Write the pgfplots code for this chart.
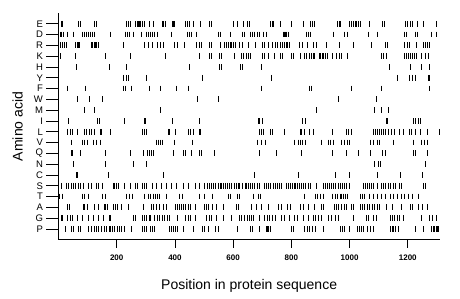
\documentclass[border=0pt]{standalone}
\usepackage{fontspec}
\setmainfont{Liberation Sans}
\usepackage{pgfplots}
\pgfplotsset{compat=1.18}
\begin{document}
\begin{tikzpicture}
\pgfplotsset{bar/.style={only marks, mark=|, mark size=2.9pt, mark options={line width=1pt, black}}}
\begin{axis}[name=main,
  scale only axis, width=381.3pt, height=226.8pt,
  xmin=0, xmax=1310, ymin=0, ymax=21, clip=false,
  axis x line*=bottom, axis y line*=left,
  axis line style={line width=1.4pt, -},
  xtick=\empty,
  ytick={1,...,20},
  yticklabels={P,G,A,T,S,C,N,Q,V,L,I,M,W,F,Y,H,K,R,D,E},
  major tick length=12pt, tick align=outside,
  tick style={black, line width=0.8pt},
  yticklabel style={font=\fontsize{9.5}{10}\selectfont},
  ylabel={Amino acid},
  ylabel style={at={(axis description cs:-0.1075,0.5)}, anchor=center, font=\fontsize{14}{16}\selectfont},
]
% E
\addplot[bar] coordinates {(9,20)(13,20)(15,20)(70,20)(75,20)(122,20)(125,20)(130,20)(234,20)(242,20)(249,20)(266,20)(270,20)(274,20)(278,20)(282,20)(288,20)(295,20)(311,20)(326,20)(358,20)(362,20)(368,20)(390,20)(394,20)(400,20)(438,20)(442,20)(449,20)(463,20)(489,20)(520,20)(527,20)(600,20)(616,20)(635,20)(650,20)(657,20)(730,20)(735,20)(739,20)(764,20)(799,20)(841,20)(867,20)(873,20)(881,20)(959,20)(965,20)(969,20)(1001,20)(1006,20)(1013,20)(1019,20)(1024,20)(1030,20)(1036,20)(1070,20)(1114,20)(1119,20)(1191,20)(1198,20)(1210,20)(1217,20)(1233,20)(1253,20)(1297,20)};
% D
\addplot[bar] coordinates {(7,19)(12,19)(18,19)(32,19)(51,19)(82,19)(89,19)(96,19)(103,19)(109,19)(116,19)(125,19)(180,19)(231,19)(238,19)(244,19)(258,19)(286,19)(302,19)(309,19)(315,19)(323,19)(331,19)(339,19)(389,19)(442,19)(449,19)(456,19)(474,19)(549,19)(557,19)(592,19)(632,19)(640,19)(658,19)(667,19)(675,19)(683,19)(692,19)(703,19)(713,19)(772,19)(776,19)(780,19)(785,19)(789,19)(852,19)(858,19)(866,19)(944,19)(984,19)(992,19)(1064,19)(1095,19)(1187,19)(1196,19)(1225,19)(1233,19)(1282,19)(1299,19)};
% R
\addplot[bar] coordinates {(7,18)(13,18)(19,18)(27,18)(59,18)(64,18)(68,18)(73,18)(112,18)(117,18)(123,18)(128,18)(132,18)(138,18)(223,18)(294,18)(309,18)(323,18)(339,18)(349,18)(360,18)(400,18)(408,18)(434,18)(474,18)(484,18)(492,18)(518,18)(526,18)(555,18)(572,18)(578,18)(584,18)(590,18)(596,18)(602,18)(608,18)(621,18)(633,18)(652,18)(678,18)(701,18)(709,18)(721,18)(736,18)(744,18)(752,18)(761,18)(770,18)(778,18)(783,18)(788,18)(793,18)(827,18)(839,18)(855,18)(875,18)(885,18)(921,18)(967,18)(1015,18)(1076,18)(1122,18)(1130,18)(1190,18)(1198,18)(1207,18)(1230,18)(1253,18)(1262,18)(1268,18)(1274,18)};
% K
\addplot[bar] coordinates {(7,17)(57,17)(160,17)(246,17)(366,17)(484,17)(518,17)(526,17)(552,17)(559,17)(603,17)(630,17)(637,17)(646,17)(652,17)(658,17)(700,17)(707,17)(721,17)(741,17)(764,17)(769,17)(799,17)(807,17)(830,17)(844,17)(852,17)(864,17)(870,17)(875,17)(881,17)(895,17)(900,17)(906,17)(912,17)(918,17)(924,17)(941,17)(955,17)(964,17)(973,17)(992,17)(1110,17)(1118,17)(1127,17)(1190,17)(1196,17)(1203,17)(1210,17)(1217,17)(1223,17)(1230,17)(1247,17)(1262,17)(1270,17)};
% H
\addplot[bar] coordinates {(62,16)(175,16)(232,16)(449,16)(552,16)(560,16)(626,16)(633,16)(698,16)(1136,16)(1210,16)(1246,16)(1276,16)};
% Y
\addplot[bar] coordinates {(225,15)(232,15)(239,15)(303,15)(495,15)(732,15)(1164,15)(1207,15)(1217,15)(1225,15)(1270,15)(1273,15)};
% F
\addplot[bar] coordinates {(32,14)(94,14)(223,14)(231,14)(251,14)(314,14)(351,14)(406,14)(446,14)(698,14)(862,14)(870,14)(1007,14)(1110,14)(1276,14)};
% W
\addplot[bar] coordinates {(66,13)(108,13)(151,13)(478,13)(549,13)(961,13)(1091,13)};
% M
\addplot[bar] coordinates {(88,12)(122,12)(349,12)(885,12)(1087,12)(1110,12)(1135,12)};
% I
\addplot[bar] coordinates {(36,11)(135,11)(141,11)(228,11)(295,11)(299,11)(392,11)(485,11)(686,11)(692,11)(701,11)(838,11)(847,11)(1127,11)(1131,11)(1221,11)(1228,11)(1236,11)(1244,11)};
% L
\addplot[bar] coordinates {(31,10)(40,10)(48,10)(64,10)(89,10)(97,10)(105,10)(114,10)(123,10)(143,10)(148,10)(177,10)(288,10)(295,10)(302,10)(377,10)(383,10)(403,10)(446,10)(454,10)(463,10)(484,10)(488,10)(692,10)(698,10)(704,10)(730,10)(736,10)(776,10)(830,10)(835,10)(844,10)(864,10)(875,10)(941,10)(988,10)(997,10)(1007,10)(1082,10)(1088,10)(1095,10)(1102,10)(1109,10)(1116,10)(1125,10)(1134,10)(1144,10)(1156,10)(1171,10)(1185,10)(1205,10)(1212,10)(1228,10)(1242,10)(1267,10)(1308,10)};
% V
\addplot[bar] coordinates {(43,9)(83,9)(90,9)(99,9)(120,9)(130,9)(144,9)(335,9)(343,9)(351,9)(358,9)(397,9)(461,9)(684,9)(698,9)(712,9)(812,9)(824,9)(831,9)(838,9)(849,9)(902,9)(927,9)(934,9)(944,9)(973,9)(984,9)(992,9)(1001,9)(1072,9)(1082,9)(1095,9)(1102,9)(1150,9)(1219,9)(1248,9)(1259,9)(1267,9)};
% Q
\addplot[bar] coordinates {(43,8)(48,8)(77,8)(162,8)(249,8)(291,8)(306,8)(313,8)(320,8)(327,8)(396,8)(429,8)(436,8)(457,8)(486,8)(492,8)(537,8)(692,8)(749,8)(835,8)(941,8)(991,8)(1032,8)(1071,8)(1112,8)(1122,8)(1218,8)(1228,8)(1268,8)};
% N
\addplot[bar] coordinates {(51,7)(162,7)(257,7)(303,7)(1087,7)(1099,7)(1107,7)(1262,7)};
% C
\addplot[bar] coordinates {(62,6)(66,6)(171,6)(360,6)(673,6)(824,6)(952,6)(999,6)(1095,6)(1175,6)(1251,6)};
% S
\addplot[bar] coordinates {(9,5)(28,5)(36,5)(43,5)(51,5)(59,5)(68,5)(77,5)(85,5)(103,5)(112,5)(131,5)(139,5)(151,5)(188,5)(194,5)(200,5)(206,5)(228,5)(249,5)(263,5)(272,5)(288,5)(295,5)(303,5)(322,5)(337,5)(354,5)(371,5)(389,5)(406,5)(429,5)(446,5)(469,5)(486,5)(503,5)(511,5)(520,5)(527,5)(534,5)(541,5)(548,5)(555,5)(561,5)(568,5)(575,5)(582,5)(589,5)(596,5)(603,5)(610,5)(617,5)(623,5)(632,5)(641,5)(647,5)(654,5)(661,5)(668,5)(675,5)(682,5)(689,5)(709,5)(716,5)(723,5)(730,5)(737,5)(744,5)(751,5)(760,5)(767,5)(783,5)(789,5)(796,5)(803,5)(810,5)(815,5)(822,5)(828,5)(835,5)(842,5)(849,5)(858,5)(867,5)(887,5)(910,5)(918,5)(925,5)(931,5)(938,5)(945,5)(952,5)(961,5)(969,5)(976,5)(983,5)(990,5)(999,5)(1047,5)(1054,5)(1061,5)(1068,5)(1075,5)(1082,5)(1095,5)(1110,5)(1118,5)(1125,5)(1133,5)(1141,5)(1150,5)(1159,5)(1171,5)(1179,5)(1253,5)(1262,5)};
% T
\addplot[bar] coordinates {(5,4)(14,4)(83,4)(91,4)(102,4)(152,4)(160,4)(234,4)(243,4)(255,4)(294,4)(309,4)(317,4)(326,4)(332,4)(339,4)(348,4)(371,4)(417,4)(425,4)(486,4)(500,4)(529,4)(583,4)(591,4)(614,4)(621,4)(669,4)(686,4)(693,4)(844,4)(883,4)(890,4)(899,4)(909,4)(941,4)(950,4)(959,4)(968,4)(973,4)(978,4)(985,4)(992,4)(1038,4)(1045,4)(1053,4)(1068,4)(1082,4)(1095,4)(1110,4)(1125,4)(1139,4)(1152,4)(1164,4)(1179,4)(1187,4)(1202,4)(1217,4)(1236,4)};
% A
\addplot[bar] coordinates {(31,3)(37,3)(85,3)(91,3)(98,3)(123,3)(139,3)(157,3)(163,3)(169,3)(188,3)(196,3)(203,3)(217,3)(240,3)(291,3)(320,3)(328,3)(337,3)(346,3)(362,3)(371,3)(403,3)(410,3)(417,3)(424,3)(431,3)(438,3)(445,3)(452,3)(469,3)(503,3)(510,3)(517,3)(529,3)(543,3)(566,3)(610,3)(618,3)(664,3)(681,3)(698,3)(721,3)(757,3)(767,3)(787,3)(796,3)(833,3)(842,3)(858,3)(881,3)(902,3)(911,3)(947,3)(954,3)(963,3)(973,3)(981,3)(988,3)(1007,3)(1013,3)(1038,3)(1045,3)(1053,3)(1061,3)(1070,3)(1079,3)(1087,3)(1095,3)(1104,3)(1127,3)(1148,3)(1179,3)(1210,3)(1217,3)(1236,3)(1251,3)(1267,3)};
% G
\addplot[bar] coordinates {(9,2)(14,2)(31,2)(40,2)(48,2)(66,2)(84,2)(103,2)(120,2)(137,2)(155,2)(174,2)(180,2)(258,2)(265,2)(288,2)(295,2)(303,2)(311,2)(316,2)(331,2)(339,2)(348,2)(356,2)(364,2)(374,2)(383,2)(408,2)(438,2)(446,2)(454,2)(472,2)(509,2)(518,2)(525,2)(543,2)(566,2)(595,2)(621,2)(629,2)(640,2)(650,2)(657,2)(664,2)(670,2)(689,2)(709,2)(718,2)(726,2)(734,2)(744,2)(767,2)(776,2)(795,2)(812,2)(821,2)(841,2)(858,2)(875,2)(883,2)(892,2)(902,2)(927,2)(938,2)(952,2)(961,2)(1015,2)(1059,2)(1065,2)(1082,2)(1091,2)(1139,2)(1148,2)(1156,2)(1164,2)(1173,2)(1185,2)(1247,2)(1276,2)(1285,2)(1299,2)};
% P
\addplot[bar] coordinates {(25,1)(45,1)(53,1)(68,1)(75,1)(103,1)(112,1)(123,1)(131,1)(139,1)(148,1)(157,1)(165,1)(174,1)(180,1)(187,1)(194,1)(201,1)(208,1)(215,1)(228,1)(251,1)(288,1)(295,1)(303,1)(316,1)(323,1)(330,1)(381,1)(388,1)(394,1)(401,1)(410,1)(429,1)(465,1)(495,1)(503,1)(515,1)(541,1)(549,1)(614,1)(658,1)(666,1)(689,1)(714,1)(718,1)(723,1)(728,1)(799,1)(807,1)(844,1)(856,1)(864,1)(873,1)(883,1)(910,1)(969,1)(976,1)(983,1)(1001,1)(1027,1)(1033,1)(1040,1)(1047,1)(1061,1)(1072,1)(1082,1)(1139,1)(1146,1)(1152,1)(1159,1)(1167,1)(1225,1)(1253,1)(1283,1)(1288,1)(1292,1)(1297,1)(1301,1)(1306,1)};
\end{axis}
\begin{axis}[
  scale only axis, width=381.3pt, height=226.8pt,
  xmin=0, xmax=1310, ymin=0, ymax=21,
  axis x line*=bottom, axis y line=none,
  axis line style={line width=1.4pt, -},
  xtick={200,400,600,800,1000,1200},
  major tick length=8pt, tick align=outside,
  tick style={black, line width=0.8pt},
  xticklabel style={font=\fontsize{8}{9}\selectfont\bfseries, yshift=-4pt},
  /pgf/number format/assume math mode=true,
  /pgf/number format/1000 sep={},
  xlabel={Position in protein sequence},
  xlabel style={at={(axis description cs:0.5,-0.2205)}, anchor=base, font=\fontsize{14}{16}\selectfont},
]
\addplot[draw=none] coordinates {(0,0)};
\end{axis}
\pgfresetboundingbox
\path[use as bounding box] ([xshift=-58.5pt,yshift=-59.2pt]main.south west) rectangle ([xshift=401.5pt,yshift=239.8pt]main.south west);
\end{tikzpicture}
\end{document}
